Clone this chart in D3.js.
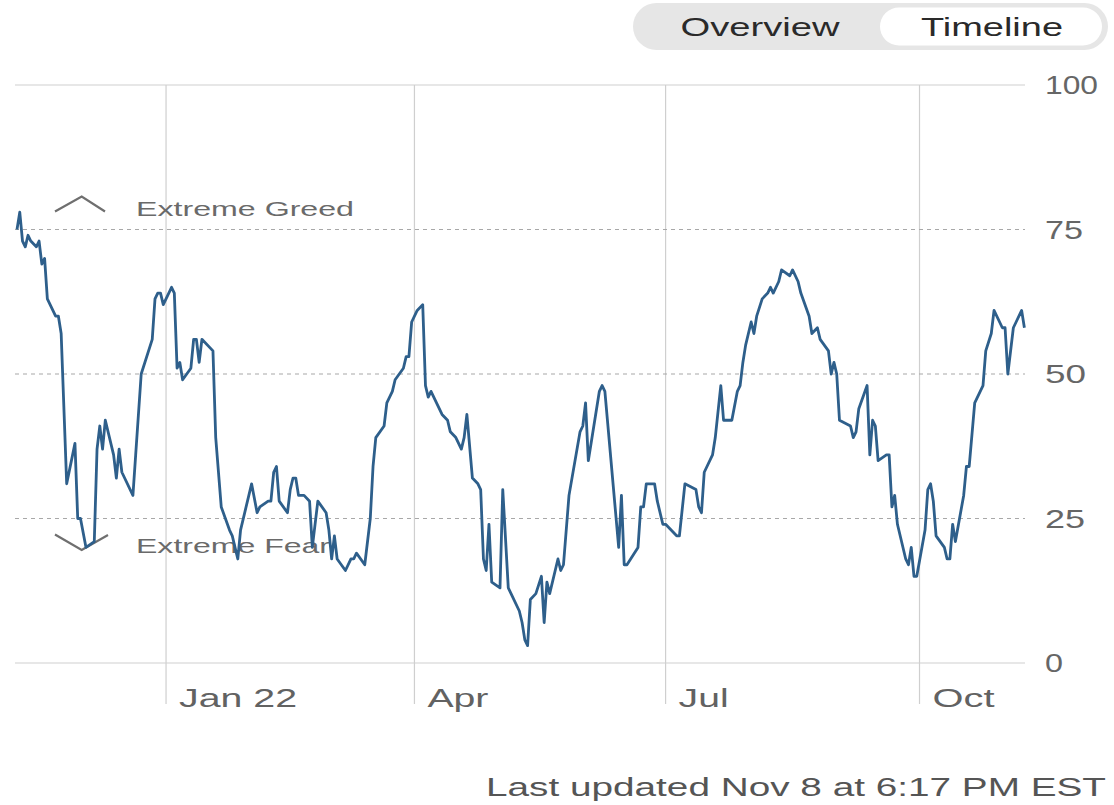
<!DOCTYPE html>
<html>
<head>
<meta charset="utf-8">
<script src="https://cdn.jsdelivr.net/npm/d3@7"></script>
<style>
  html, body { margin: 0; padding: 0; background: #fff; }
  svg { display: block; font-family: "Liberation Sans", Arial, sans-serif; }
</style>
</head>
<body>
<svg id="chart" width="1114" height="805"></svg>
<script>
// ---- data ----
const dates = [
"2021-11-08","2021-11-09","2021-11-10","2021-11-11","2021-11-12","2021-11-13","2021-11-15","2021-11-16","2021-11-17","2021-11-18",
"2021-11-19","2021-11-21","2021-11-22","2021-11-23","2021-11-24","2021-11-26","2021-11-29","2021-11-30","2021-12-01","2021-12-03",
"2021-12-06","2021-12-07","2021-12-08","2021-12-09","2021-12-10","2021-12-13","2021-12-14","2021-12-15","2021-12-16","2021-12-20",
"2021-12-21","2021-12-23","2021-12-27","2021-12-28","2021-12-29","2021-12-30","2021-12-31","2022-01-02","2022-01-03","2022-01-04",
"2022-01-05","2022-01-06","2022-01-07","2022-01-10","2022-01-11","2022-01-12","2022-01-13","2022-01-14","2022-01-18","2022-01-19",
"2022-01-21","2022-01-24","2022-01-25","2022-01-27","2022-01-28","2022-02-01","2022-02-03","2022-02-04","2022-02-07","2022-02-08",
"2022-02-09","2022-02-10","2022-02-11","2022-02-14","2022-02-15","2022-02-16","2022-02-17","2022-02-18","2022-02-20","2022-02-22",
"2022-02-23","2022-02-25","2022-02-28","2022-03-01","2022-03-02","2022-03-03","2022-03-04","2022-03-07","2022-03-09","2022-03-10",
"2022-03-11","2022-03-14","2022-03-16","2022-03-17","2022-03-18","2022-03-21","2022-03-22","2022-03-24","2022-03-25","2022-03-28",
"2022-03-29","2022-03-30","2022-03-31","2022-04-02","2022-04-04","2022-04-05","2022-04-06","2022-04-07","2022-04-09","2022-04-11",
"2022-04-13","2022-04-14","2022-04-16","2022-04-18","2022-04-19","2022-04-20","2022-04-22","2022-04-24","2022-04-25","2022-04-26",
"2022-04-27","2022-04-28","2022-04-29","2022-05-02","2022-05-03","2022-05-05","2022-05-06","2022-05-09","2022-05-10","2022-05-11",
"2022-05-12","2022-05-13","2022-05-15","2022-05-17","2022-05-18","2022-05-19","2022-05-20","2022-05-23","2022-05-24","2022-05-25",
"2022-05-27","2022-05-31","2022-06-01","2022-06-02","2022-06-03","2022-06-07","2022-06-08","2022-06-09","2022-06-14","2022-06-15",
"2022-06-16","2022-06-17","2022-06-21","2022-06-22","2022-06-23","2022-06-24","2022-06-27","2022-06-28","2022-06-30","2022-07-01",
"2022-07-05","2022-07-06","2022-07-08","2022-07-12","2022-07-13","2022-07-14","2022-07-15","2022-07-18","2022-07-19","2022-07-21",
"2022-07-22","2022-07-25","2022-07-27","2022-07-28","2022-07-29","2022-07-30","2022-08-01","2022-08-02","2022-08-03","2022-08-05",
"2022-08-07","2022-08-08","2022-08-09","2022-08-11","2022-08-12","2022-08-15","2022-08-16","2022-08-18","2022-08-19","2022-08-22",
"2022-08-23","2022-08-25","2022-08-26","2022-08-29","2022-08-30","2022-08-31","2022-09-01","2022-09-02","2022-09-06","2022-09-07",
"2022-09-08","2022-09-09","2022-09-12","2022-09-13","2022-09-14","2022-09-15","2022-09-16","2022-09-19","2022-09-20","2022-09-21",
"2022-09-22","2022-09-23","2022-09-26","2022-09-27","2022-09-28","2022-09-29","2022-09-30","2022-10-03","2022-10-04","2022-10-05",
"2022-10-06","2022-10-07","2022-10-10","2022-10-11","2022-10-12","2022-10-13","2022-10-14","2022-10-17","2022-10-18","2022-10-19",
"2022-10-21","2022-10-24","2022-10-25","2022-10-27","2022-10-28","2022-10-31","2022-11-01","2022-11-02","2022-11-04","2022-11-05",
"2022-11-07","2022-11-08"
];
const scores = [
75,78,73,72,74,73,72,73,69,70,
63,61,60,60,57,31,38,25,25,20,
21,37,41,37,42,36,32,37,33,29,
36,50,56,63,64,64,62,64,65,64,
51,52,49,51,56,56,52,56,54,39,
27,23,22,18,23,31,26,27,28,28,
33,34,28,26,30,32,32,29,29,28,
20,28,26,23,18,22,18,16,18,18,
19,17,25,34,39,41,45,47,49,51,
53,53,59,61,62,48,46,47,45,43,
42,40,39,37,39,43,32,31,30,18,
16,24,14,13,30,13,12,9,7,4,
3,11,12,15,7,14,12,18,16,17,
29,40,41,45,35,47,48,47,20,29,
17,17,20,27,27,31,31,28,24,24,
22,22,31,30,27,26,33,36,39,48,
42,42,47,48,52,55,59,57,60,63,
64,65,64,66,68,67,68,66,64,60,
57,58,56,54,50,52,50,42,41,39,
40,44,48,36,42,41,35,36,36,27,
29,24,18,17,20,15,15,23,30,31,
28,22,20,18,18,24,21,29,34,34,
45,48,54,57,61,58,58,50,58,59,
61,58
];
const yTicks = [0, 25, 50, 75, 100];
const zoneLines = [25, 50, 75];
const quarterTicks = ["2022-01-01", "2022-04-01", "2022-07-01", "2022-10-01"];
const quarterLabels = ["Jan 22", "Apr", "Jul", "Oct"];
const zoneLabels = ["Extreme Greed", "Extreme Fear"];
const toggleLabels = ["Overview", "Timeline"];
const footer = "Last updated Nov 8 at 6:17 PM EST";

// ---- drawing ----
const parse = d3.timeParse("%Y-%m-%d");
const series = dates.map((d, i) => ({ date: parse(d), value: scores[i] }));

const svg = d3.select("#chart");

const x = d3.scaleTime()
  .domain([parse("2021-11-08"), parse("2022-11-08")])
  .range([17, 1024.4]);
const y = d3.scaleLinear().domain([0, 100]).range([663, 85]);

const gridX0 = 15, gridX1 = 1025;

// toggle pill
const tog = svg.append("g");
tog.append("rect").attr("x", 633).attr("y", 3).attr("width", 475).attr("height", 47)
  .attr("rx", 23.5).attr("fill", "#e6e6e6");
tog.append("rect").attr("x", 880).attr("y", 7.5).attr("width", 222).attr("height", 38)
  .attr("rx", 19).attr("fill", "#ffffff");
const togPos = [[760, 159], [992, 142]];
tog.selectAll("text").data(toggleLabels).join("text")
  .attr("x", (d, i) => togPos[i][0])
  .attr("y", 35.5)
  .attr("text-anchor", "middle")
  .attr("font-size", 25)
  .attr("fill", "#2a2a2a")
  .attr("textLength", (d, i) => togPos[i][1])
  .attr("lengthAdjust", "spacingAndGlyphs")
  .text(d => d);

// vertical quarter lines
svg.append("g").selectAll("line").data(quarterTicks).join("line")
  .attr("x1", d => x(parse(d))).attr("x2", d => x(parse(d)))
  .attr("y1", y(100)).attr("y2", 704)
  .attr("stroke", "#cfcfcf").attr("stroke-width", 1.2);

// horizontal gridlines
svg.append("g").selectAll("line").data(yTicks).join("line")
  .attr("x1", gridX0).attr("x2", gridX1)
  .attr("y1", d => y(d)).attr("y2", d => y(d))
  .attr("stroke", d => zoneLines.includes(d) ? "#a8a8a8" : "#d0d0d0")
  .attr("stroke-width", 1.2)
  .attr("stroke-dasharray", d => zoneLines.includes(d) ? "4,4" : null);

// y labels
const yLabW = { 0: 18, 25: 40, 50: 41, 75: 38, 100: 53 };
svg.append("g").selectAll("text").data(yTicks).join("text")
  .attr("x", 1045)
  .attr("y", d => y(d) + 9)
  .attr("font-size", 25)
  .attr("fill", "#666")
  .attr("textLength", d => yLabW[d])
  .attr("lengthAdjust", "spacingAndGlyphs")
  .text(d => d);

// x labels
const xLabW = [118, 61, 50, 62];
svg.append("g").selectAll("text").data(quarterLabels).join("text")
  .attr("x", (d, i) => x(parse(quarterTicks[i])) + 13)
  .attr("y", 707)
  .attr("font-size", 26)
  .attr("fill", "#626262")
  .attr("textLength", (d, i) => xLabW[i])
  .attr("lengthAdjust", "spacingAndGlyphs")
  .text(d => d);

// zone labels + chevrons
const zoneG = svg.append("g");
zoneG.append("path")
  .attr("d", "M55,211.5L81.7,196.5L105,211.5")
  .attr("fill", "none").attr("stroke", "#6f6f6f").attr("stroke-width", 2.2);
zoneG.append("path")
  .attr("d", "M55,534.5L81.7,550L108,535")
  .attr("fill", "none").attr("stroke", "#6f6f6f").attr("stroke-width", 2.2);
const zoneY = [215.5, 553];
const zoneW = [218, 194];
zoneG.selectAll("text").data(zoneLabels).join("text")
  .attr("x", 136)
  .attr("y", (d, i) => zoneY[i])
  .attr("font-size", 21)
  .attr("fill", "#6a6a6a")
  .attr("textLength", (d, i) => zoneW[i])
  .attr("lengthAdjust", "spacingAndGlyphs")
  .text(d => d);

// line
const line = d3.line().x(d => x(d.date)).y(d => y(d.value));
svg.append("path").datum(series)
  .attr("d", line)
  .attr("fill", "none")
  .attr("stroke", "#2e5f8b")
  .attr("stroke-width", 2.8)
  .attr("stroke-linejoin", "round");

// footer
svg.append("text")
  .attr("x", 1106).attr("y", 796)
  .attr("text-anchor", "end")
  .attr("font-size", 25)
  .attr("fill", "#555")
  .attr("textLength", 620)
  .attr("lengthAdjust", "spacingAndGlyphs")
  .text(footer);
</script>
</body>
</html>
